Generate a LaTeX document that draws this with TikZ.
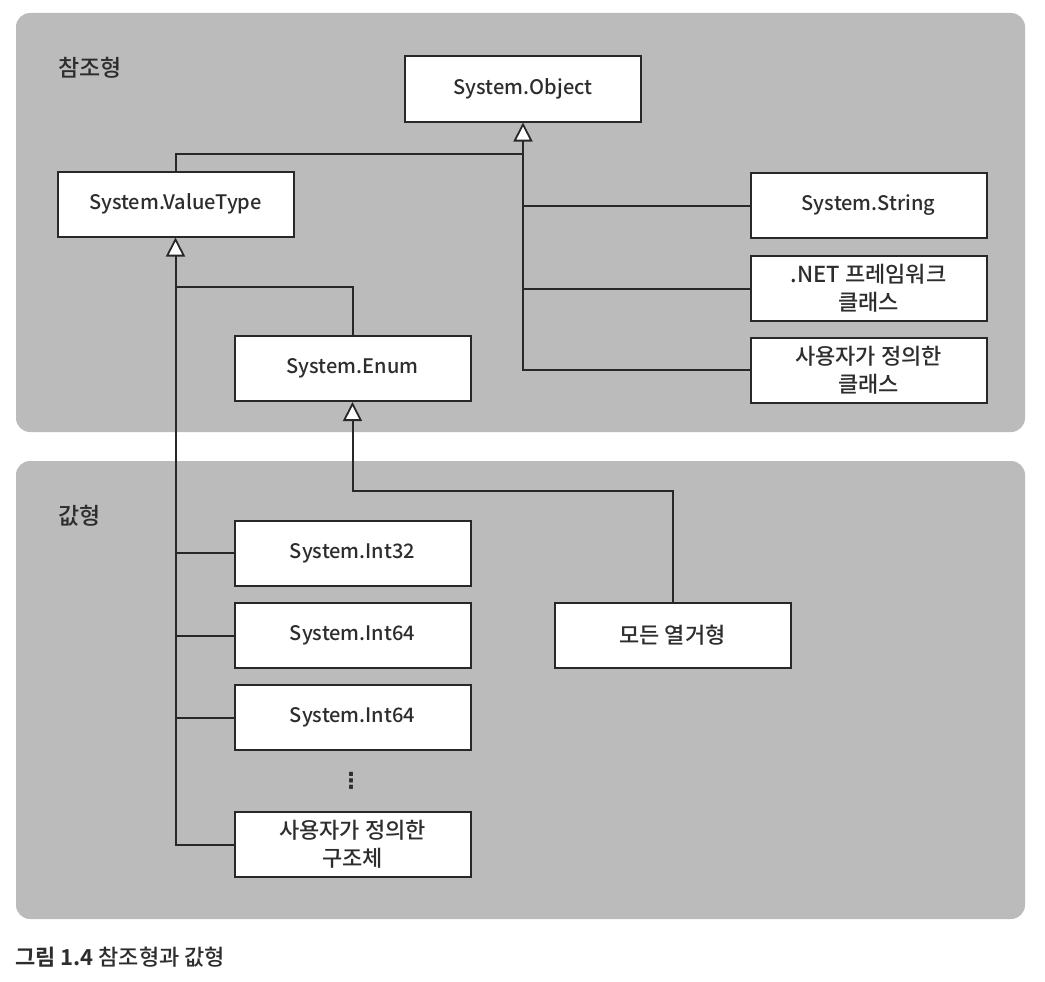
\documentclass[tikz,border=0pt]{standalone}
\usepackage{fontspec}
\setmainfont{Noto Sans CJK KR}[UprightFont=* Medium, BoldFont=* Bold]
\newfontfamily\symfont{DejaVu Sans}
\usetikzlibrary{arrows.meta}
\definecolor{panel}{RGB}{187,187,187}
\definecolor{ink}{RGB}{40,40,40}
\definecolor{txt}{RGB}{45,45,45}
\begin{document}
\begin{tikzpicture}[x=1pt,y=-1pt,
  box/.style={draw=ink, line width=2pt, fill=white, minimum width=236pt,
    minimum height=65pt, inner sep=0pt, align=center,
    font=\fontsize{22}{28}\selectfont, text=txt},
  latin/.style={font=\fontsize{20}{28}\selectfont},
  conn/.style={draw=ink, line width=2pt},
  inh/.style={conn, -{Triangle[length=19pt,width=19pt,fill=white,line width=1.8pt]}},
  lbl/.style={anchor=west, font=\fontsize{23}{26}\selectfont, text=txt, inner sep=0pt},
  panelbox/.style={fill=panel, rounded corners=14pt}]
\useasboundingbox (0,0) rectangle (1045,982);
\fill[panelbox] (16,13) rectangle (1025,432);
\fill[panelbox] (16,461) rectangle (1025,919);

\node[lbl] (reflbl) at (58,68) {참조형};
\node[lbl] (vallbl) at (58,516) {값형};

\node[box, latin] (obj) at (523,89) {System.Object};
\node[box, latin] (vt) at (175.5,204) {System.ValueType};
\node[box, latin] (enum) at (352.5,368.5) {System.Enum};
\node[box, latin] (str) at (868.5,205.5) {System.String};
\node[box] (net) at (868.5,288.5) {.NET 프레임워크\\클래스};
\node[box] (ucls) at (868.5,370) {사용자가 정의한\\클래스};
\node[box, latin] (i32) at (352.5,553) {System.Int32};
\node[box, latin] (i64a) at (352.5,635.5) {System.Int64};
\node[box, latin] (i64b) at (352.5,717.5) {System.Int64};
\node[box] (ustr) at (352.5,844.5) {사용자가 정의한\\구조체};
\node[box] (all) at (672.5,635.5) {모든 열거형};
\node[text=txt, font=\symfont\bfseries\fontsize{22}{22}\selectfont, inner sep=0pt] (dots) at (351,781) {⋮};

\coordinate (oy) at (0,154);
\coordinate (vy) at (0,287);
\coordinate (ey) at (0,491);

\draw[inh] (ucls.west) -| (obj.south);
\draw[conn] (str.west) -- (str.west -| obj.south);
\draw[conn] (net.west) -- (net.west -| obj.south);
\draw[conn] (vt.north) |- (obj.south |- oy);

\draw[inh] (ustr.west) -| (vt.south);
\draw[conn] (i32.west) -- (i32.west -| vt.south);
\draw[conn] (i64a.west) -- (i64a.west -| vt.south);
\draw[conn] (i64b.west) -- (i64b.west -| vt.south);
\draw[conn] (enum.north) |- (vt.south |- vy);

\draw[inh] (all.north) |- (enum.south |- ey) -- (enum.south);

\node[anchor=west, inner sep=0pt, text=txt, font=\fontsize{22}{25}\selectfont] (cap) at (15,957) {\textbf{그림 1.4} 참조형과 값형};
\end{tikzpicture}
\end{document}
